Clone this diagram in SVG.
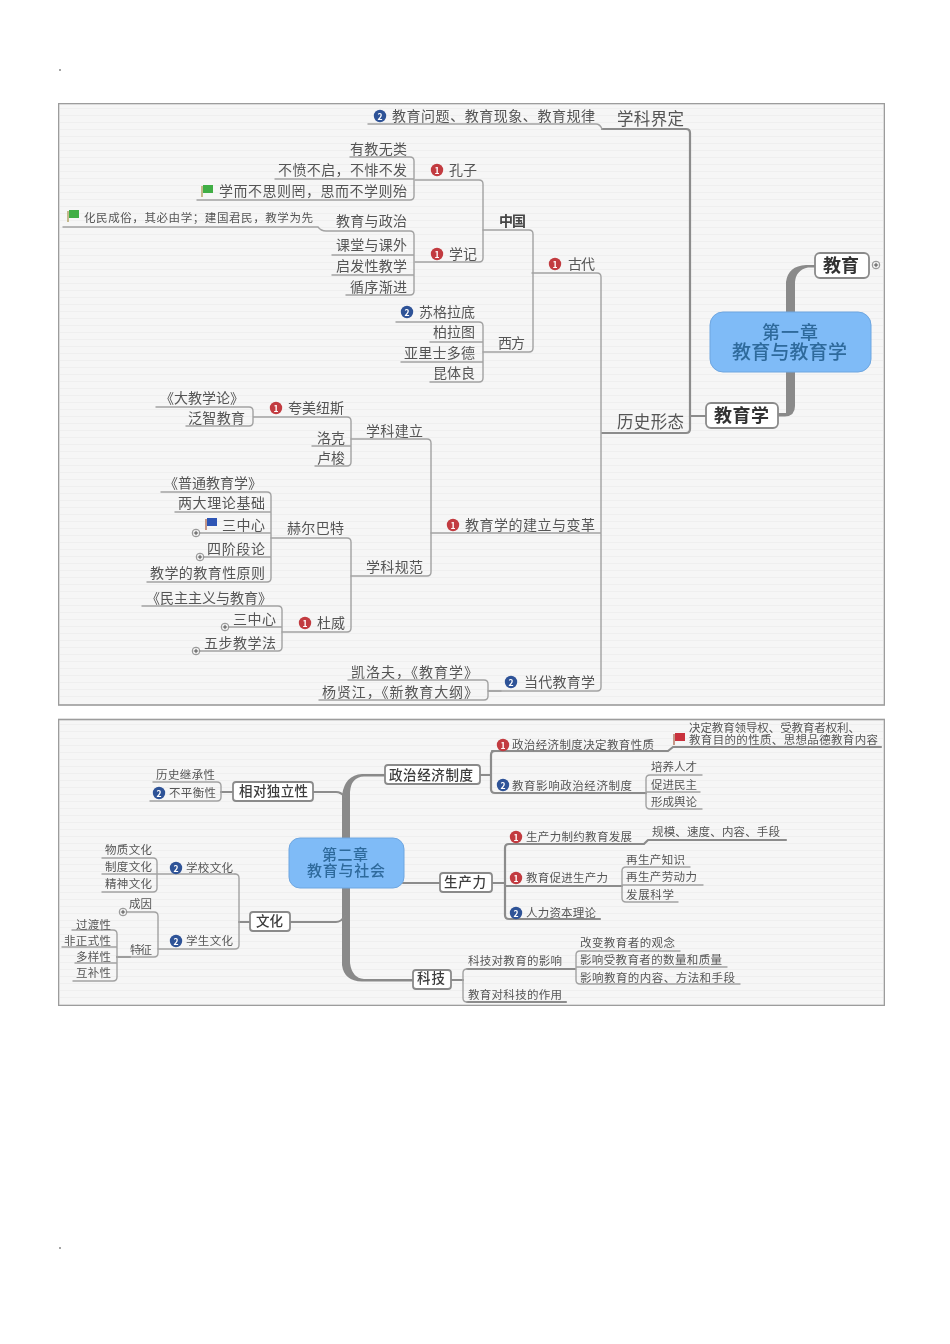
<svg xmlns="http://www.w3.org/2000/svg" width="950" height="1344" viewBox="0 0 950 1344">
<style>
text{font-family:"Noto Sans CJK SC","Noto Sans CJK TC",sans-serif;fill:#555;dominant-baseline:central;transform:translateY(-1px)}
.s{font-size:11.5px}.m{font-size:14px}.l{font-size:16.5px}.xl{font-size:18px;font-weight:700;fill:#333}
.sb{font-size:13.5px;font-weight:500;fill:#3c3c3c}
.b{font-weight:700;fill:#444}
.c{fill:none;stroke:#a2a2a2;stroke-width:1.4;stroke-linecap:round}
.d{fill:none;stroke:#8c8c8c;stroke-width:2.2;stroke-linecap:round}
.sp{fill:#8a8a8a}
.panel{fill:#f6f6f6;stroke:#9c9c9c;stroke-width:1.6}
.node{fill:#fff;stroke:#8a8a8a;stroke-width:1.8}
.root{fill:#7fbbf7;stroke:#6ea6e0;stroke-width:1}
.rt{fill:#2f6a9c;font-weight:500}
.i1{fill:#c23a3f}.i2{fill:#2f5297}
.n{font-size:8.5px;font-weight:700;fill:#fff;text-anchor:middle;transform:none}
.p{fill:#f4f4f4;stroke:#707070;stroke-width:.8}
.pl{stroke:#444;stroke-width:.9}
</style>
<defs>
<filter id="soft" x="0" y="0" width="100%" height="100%"><feGaussianBlur stdDeviation="0.5"/></filter>
<pattern id="stripes" width="8" height="7" patternUnits="userSpaceOnUse"><path d="M0 3.500H8" stroke="#efefef" stroke-width="1"/></pattern>
<g id="plus"><circle r="3.800" class="p"/><path d="M-2.200 0H2.200M0-2.200V2.200" class="pl"/></g>
<g id="one"><circle r="6.200" class="i1"/><text class="n" y="0.3">1</text></g>
<g id="two"><circle r="6.200" class="i2"/><text class="n" y="0.3">2</text></g>
<g id="gf"><path d="M-5-5V6" stroke="#b0a060" stroke-width="1.400"/><path d="M-4-6H6V2H-4Z" fill="#3fae45"/></g>
<g id="bf"><path d="M-5-5V6" stroke="#b0705a" stroke-width="1.400"/><path d="M-4-6H6V2H-4Z" fill="#2f55b5"/></g>
<g id="rf"><path d="M-5-5V6" stroke="#b0705a" stroke-width="1.400"/><path d="M-4-6H6V2H-4Z" fill="#c9323d"/></g>
</defs>
<circle cx="60" cy="70" r="0.8" fill="#333"/>
<circle cx="60" cy="1248" r="0.8" fill="#333"/>
<g filter="url(#soft)">
<rect class="panel" x="58.500" y="103.500" width="826" height="601.500"/>
<rect x="60" y="105" width="823" height="598" fill="url(#stripes)"/>
<rect class="panel" x="58.500" y="719.500" width="826" height="286"/>
<rect x="60" y="721" width="823" height="283" fill="url(#stripes)"/>

<g id="connectors">
<path class="sp" d="M815 265H806Q788 266 786 282V413H778V416.500H785Q795 416 795 406V282Q796 270 808 267.500H815Z"/>
<path class="d" d="M706 416H690"/>
<path class="d" d="M602 129H686Q690 129 690 133V429Q690 433 686 433H602"/>
<path class="c" d="M368 124H596Q600 124 602 129"/>
<path class="c" d="M601 433V277Q601 273 597 273H532M601 433V687Q601 691 597 691H488M431 533H601"/>
<path class="c" d="M483 230H529Q533 230 533 234V348Q533 352 529 352H483"/>
<path class="c" d="M415 180H479Q483 180 483 184V258Q483 262 479 262H415"/>
<path class="c" d="M350 157H410Q414 157 414 161V196Q414 200 410 200H197M275 179H414"/>
<path class="c" d="M63 227H318Q321 231 326 231H410Q414 231 414 235V291Q414 295 410 295H346M332 255H414M332 275H414"/>
<path class="c" d="M396 322H479Q483 322 483 326V378Q483 382 479 382H430M430 342H483M401 362H483"/>
<path class="c" d="M156 407H249Q253 407 253 411V422Q253 426 249 426H186M253 417H347Q351 417 351 421V462Q351 466 347 466H315M312 446H351"/>
<path class="c" d="M351 439H427Q431 439 431 443V572Q431 576 427 576H351"/>
<path class="c" d="M161 492H267Q271 492 271 496V578Q271 582 267 582H147M175 512H271M195 533H271M200 557H271"/>
<path class="c" d="M271 538H347Q351 538 351 542V628Q351 632 347 632H282"/>
<path class="c" d="M142 606H278Q282 606 282 610V647Q282 651 278 651H196M224 627H282"/>
<path class="c" d="M348 680H484Q488 680 488 684V696Q488 700 484 700H319M488 691H501"/>

<path class="sp" d="M385 774H362Q345 775 342 795V965Q344 981 362 981.500H413V979H364Q352 978 350 963V792Q351 777 364 776.500H385Z"/>
<path class="d" d="M451 980H463M313 792H336Q341 792 345 797M233 792H221M290 922H336Q341 922 345 916M250 922H239M403 883H440M480 775H491M491 883H505M130 957H117"/>
<path class="d" d="M492 751H668L673 747H881M491 755V789Q491 793 495 793H646M491 755Q491 751 495 751M509 844H644L648 840H786M505 848V915Q505 919 509 919H600M505 848Q505 844 509 844M505 886H622"/>
<path class="d" d="M467 969H575M467 1002H566"/>
<path class="c" d="M463 973V998Q463 1002 467 1002M463 973Q463 969 467 969"/>
<path class="c" d="M650 775H702M646 792H700M650 809H702M646 779V805Q646 809 650 809M646 779Q646 775 650 775"/>
<path class="c" d="M626 867H690M622 885H703M626 902H678M622 871V898Q622 902 626 902M622 871Q622 867 626 867"/>
<path class="c" d="M580 951H680M576 967H727M580 984H740M576 955V980Q576 984 580 984M576 955Q576 951 580 951"/>
<path class="c" d="M153 782H217Q221 782 221 786V797Q221 801 217 801H150"/>
<path class="c" d="M102 858H153Q157 858 157 862V888Q157 892 153 892H102M102 874H235"/>
<path class="c" d="M235 874Q239 874 239 878V945Q239 949 235 949H158"/>
<path class="c" d="M125 912H154Q158 912 158 916V953Q158 957 154 957H117"/>
<path class="c" d="M72 930H113Q117 930 117 934V977Q117 981 113 981H73M62 947H117M75 963H117"/>
</g>

<g id="root1"><rect class="root" x="710" y="312" width="161" height="60" rx="13"/><text class="rt" x="762" y="332" textLength="56" style="font-size:18px">第一章</text><text class="rt" x="732" y="351" textLength="115" style="font-size:19px">教育与教育学</text></g>
<g id="n-jy"><rect class="node" x="815" y="253" width="54" height="25" rx="5"/><text class="xl" x="823" y="265" textLength="36">教育</text></g>
<use href="#plus" x="876" y="265"/>
<g id="n-jyx"><rect class="node" x="706" y="403" width="72" height="25" rx="5"/><text class="xl" x="714" y="415" textLength="55">教育学</text></g>

<g id="n1"><text class="l" x="617" y="119" textLength="67">学科界定</text></g>
<g id="n2"><text class="l" x="617" y="422" textLength="67">历史形态</text></g>
<g id="n3"><use href="#two" x="380" y="116"/><text class="m" x="392" y="116" textLength="203">教育问题、教育现象、教育规律</text></g>
<g id="n4"><text class="m" x="350" y="149" textLength="57">有教无类</text></g>
<g id="n5"><text class="m" x="278" y="170" textLength="129">不愤不启，不悱不发</text></g>
<g id="n6"><use href="#gf" x="207" y="191"/><text class="m" x="219" y="191" textLength="188">学而不思则罔，思而不学则殆</text></g>
<g id="n7"><use href="#gf" x="73" y="216"/><text class="s" x="84" y="218" textLength="229">化民成俗，其必由学；建国君民，教学为先</text></g>
<g id="n8"><text class="m" x="336" y="221" textLength="71">教育与政治</text></g>
<g id="n9"><text class="m" x="336" y="245" textLength="71">课堂与课外</text></g>
<g id="n10"><text class="m" x="336" y="266" textLength="71">启发性教学</text></g>
<g id="n11"><text class="m" x="350" y="287" textLength="57">循序渐进</text></g>
<g id="n12"><use href="#one" x="437" y="170"/><text class="m" x="449" y="170" textLength="28">孔子</text></g>
<g id="n13"><use href="#one" x="437" y="254"/><text class="m" x="449" y="254" textLength="28">学记</text></g>
<g id="n14"><text class="m b" x="499" y="221" textLength="27">中国</text></g>
<g id="n15"><text class="m" x="498" y="343" textLength="27">西方</text></g>
<g id="n16"><use href="#one" x="555" y="264"/><text class="m" x="568" y="264" textLength="27">古代</text></g>
<g id="n17"><use href="#two" x="407" y="312"/><text class="m" x="419" y="312" textLength="56">苏格拉底</text></g>
<g id="n18"><text class="m" x="433" y="332" textLength="42">柏拉图</text></g>
<g id="n19"><text class="m" x="404" y="353" textLength="71">亚里士多德</text></g>
<g id="n20"><text class="m" x="433" y="373" textLength="42">昆体良</text></g>
<g id="n21"><text class="m" x="160" y="398" textLength="84">《大教学论》</text></g>
<g id="n22"><text class="m" x="188" y="418" textLength="57">泛智教育</text></g>
<g id="n23"><use href="#one" x="276" y="408"/><text class="m" x="288" y="408" textLength="56">夸美纽斯</text></g>
<g id="n24"><text class="m" x="317" y="438" textLength="28">洛克</text></g>
<g id="n25"><text class="m" x="317" y="458" textLength="28">卢梭</text></g>
<g id="n26"><text class="m" x="366" y="431" textLength="57">学科建立</text></g>
<g id="n27"><text class="m" x="366" y="567" textLength="57">学科规范</text></g>
<g id="n28"><use href="#one" x="453" y="525"/><text class="m" x="465" y="525" textLength="130">教育学的建立与变革</text></g>
<g id="n29"><text class="m" x="287" y="528" textLength="57">赫尔巴特</text></g>
<g id="n30"><text class="m" x="164" y="483" textLength="98">《普通教育学》</text></g>
<g id="n31"><text class="m" x="178" y="503" textLength="87">两大理论基础</text></g>
<g id="n32"><use href="#bf" x="211" y="524"/><text class="m" x="222" y="525" textLength="43">三中心</text></g>
<use href="#plus" x="196" y="533"/>
<g id="n33"><text class="m" x="207" y="549" textLength="58">四阶段论</text></g>
<use href="#plus" x="200" y="557"/>
<g id="n34"><text class="m" x="150" y="573" textLength="115">教学的教育性原则</text></g>
<g id="n35"><text class="m" x="146" y="598" textLength="126">《民主主义与教育》</text></g>
<g id="n36"><text class="m" x="233" y="619" textLength="43">三中心</text></g>
<use href="#plus" x="225" y="627"/>
<g id="n37"><text class="m" x="204" y="643" textLength="72">五步教学法</text></g>
<use href="#plus" x="196" y="651"/>
<g id="n38"><use href="#one" x="305" y="623"/><text class="m" x="317" y="623" textLength="28">杜威</text></g>
<g id="n39"><text class="m" x="351" y="672" textLength="127">凯洛夫，《教育学》</text></g>
<g id="n40"><text class="m" x="322" y="692" textLength="156">杨贤江，《新教育大纲》</text></g>
<g id="n41"><use href="#two" x="511" y="682"/><text class="m" x="524" y="682" textLength="71">当代教育学</text></g>

<g id="root2"><rect class="root" x="289" y="838" width="115" height="50" rx="11"/><text class="rt" x="322" y="854" textLength="46" style="font-size:15px">第二章</text><text class="rt" x="307" y="870" textLength="78" style="font-size:15px">教育与社会</text></g>
<g id="m1"><rect class="node" x="385" y="765" width="95" height="19" rx="3"/><text class="sb" x="389" y="775" textLength="84">政治经济制度</text></g>
<g id="m2"><rect class="node" x="233" y="782" width="80" height="19" rx="3"/><text class="sb" x="239" y="791" textLength="69">相对独立性</text></g>
<g id="m3"><rect class="node" x="250" y="912" width="40" height="19" rx="3"/><text class="sb" x="256" y="921" textLength="27">文化</text></g>
<g id="m4"><rect class="node" x="440" y="873" width="52" height="19" rx="3"/><text class="sb" x="444" y="882" textLength="42">生产力</text></g>
<g id="m5"><rect class="node" x="413" y="970" width="38" height="19" rx="3"/><text class="sb" x="417" y="978" textLength="28">科技</text></g>
<g id="m6"><text class="s" x="156" y="775" textLength="59">历史继承性</text></g>
<g id="m7"><use href="#two" x="159" y="793"/><text class="s" x="169" y="793" textLength="47">不平衡性</text></g>
<g id="m8"><text class="s" x="105" y="850" textLength="47">物质文化</text></g>
<g id="m9"><text class="s" x="105" y="867" textLength="47">制度文化</text></g>
<g id="m10"><text class="s" x="105" y="884" textLength="47">精神文化</text></g>
<g id="m11"><use href="#two" x="176" y="868"/><text class="s" x="186" y="868" textLength="47">学校文化</text></g>
<g id="m12"><use href="#two" x="176" y="941"/><text class="s" x="186" y="941" textLength="47">学生文化</text></g>
<g id="m13"><text class="s" x="129" y="904" textLength="23">成因</text></g>
<use href="#plus" x="123" y="912"/>
<g id="m14"><text class="s" x="130" y="950" textLength="22">特征</text></g>
<g id="m15"><text class="s" x="76" y="925" textLength="35">过渡性</text></g>
<g id="m16"><text class="s" x="64" y="941" textLength="47">非正式性</text></g>
<g id="m17"><text class="s" x="76" y="957" textLength="35">多样性</text></g>
<g id="m18"><text class="s" x="76" y="973" textLength="35">互补性</text></g>
<g id="m19"><use href="#one" x="503" y="745"/><text class="s" x="512" y="745" textLength="142">政治经济制度决定教育性质</text></g>
<g id="m20"><use href="#two" x="503" y="785"/><text class="s" x="512" y="786" textLength="120">教育影响政治经济制度</text></g>
<g id="m21"><use href="#rf" x="679" y="739"/><text class="s" x="689" y="728" textLength="171">决定教育领导权、受教育者权利、</text><text class="s" x="689" y="740" textLength="189">教育目的的性质、思想品德教育内容</text></g>
<g id="m22"><text class="s" x="651" y="767" textLength="46">培养人才</text></g>
<g id="m23"><text class="s" x="651" y="785" textLength="46">促进民主</text></g>
<g id="m24"><text class="s" x="651" y="802" textLength="46">形成舆论</text></g>
<g id="m25"><use href="#one" x="516" y="837"/><text class="s" x="526" y="837" textLength="106">生产力制约教育发展</text></g>
<g id="m26"><text class="s" x="652" y="832" textLength="128">规模、速度、内容、手段</text></g>
<g id="m27"><use href="#one" x="516" y="878"/><text class="s" x="526" y="878" textLength="82">教育促进生产力</text></g>
<g id="m28"><text class="s" x="626" y="860" textLength="59">再生产知识</text></g>
<g id="m29"><text class="s" x="626" y="877" textLength="71">再生产劳动力</text></g>
<g id="m30"><text class="s" x="626" y="895" textLength="48">发展科学</text></g>
<g id="m31"><use href="#two" x="516" y="913"/><text class="s" x="526" y="913" textLength="70">人力资本理论</text></g>
<g id="m32"><text class="s" x="468" y="961" textLength="94">科技对教育的影响</text></g>
<g id="m33"><text class="s" x="468" y="995" textLength="94">教育对科技的作用</text></g>
<g id="m34"><text class="s" x="580" y="943" textLength="95">改变教育者的观念</text></g>
<g id="m35"><text class="s" x="580" y="960" textLength="142">影响受教育者的数量和质量</text></g>
<g id="m36"><text class="s" x="580" y="978" textLength="155">影响教育的内容、方法和手段</text></g>
</g>
</svg>
